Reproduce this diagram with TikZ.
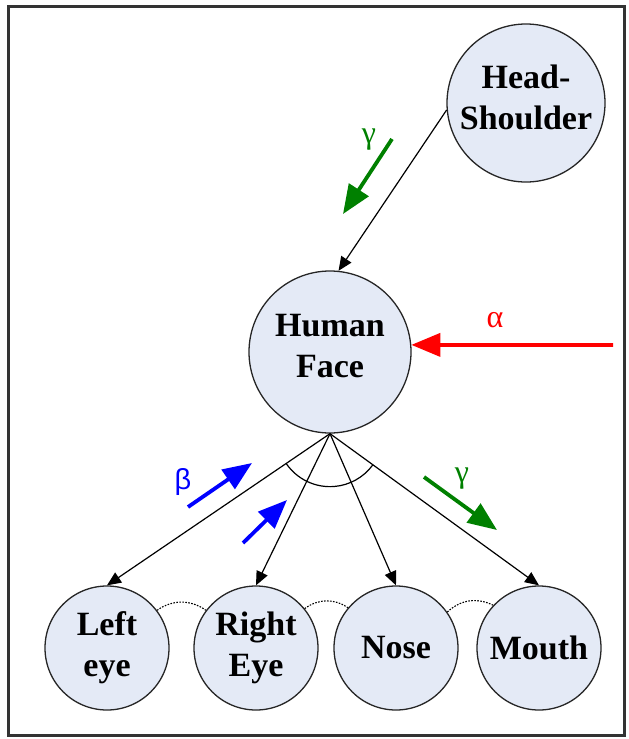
\documentclass[tikz,border=0pt]{standalone}
\usepackage{fontspec}
\setmainfont{Liberation Serif}
\newfontfamily\greeksans{Liberation Sans}
\newfontfamily\greekserif{Liberation Serif}
\usetikzlibrary{arrows.meta}

\definecolor{nodefill}{RGB}{228,234,246}
\definecolor{weightgreen}{RGB}{0,128,0}

\begin{document}
\begin{tikzpicture}[x=1pt,y=1pt,
  part/.style={circle,draw=black!85,line width=1.3pt,fill=nodefill,inner sep=0pt,
    align=center,font=\fontsize{34}{41}\selectfont\bfseries},
  raised/.style={text depth=12pt},
  link/.style={line width=1.2pt,-{Triangle[length=14pt,width=12pt]}},
  weight/.style={line width=3.8pt,-{Triangle[length=29pt,width=23pt]}},
  glabel/.style={font=\greekserif\fontsize{32}{32}\selectfont},
  slabel/.style={font=\greeksans\fontsize{29}{29}\selectfont},
  relation/.style={dash pattern=on 1.6pt off 1.4pt,line width=1.1pt}]

\useasboundingbox (0,0) rectangle (629,-739);
% frame
\draw[line width=3pt,black!80] (8.5,-6.5) rectangle (624.5,-735.5);

% nodes
\node[part,raised,minimum size=158pt] (hs) at (526,-103) {Head-\\Shoulder};
\node[part,raised,minimum size=162pt] (hf) at (330,-352) {Human\\Face};
\node[part,minimum size=124pt] (le) at (107,-648) {Left\\eye};
\node[part,minimum size=124pt] (re) at (256,-648) {Right\\Eye};
\node[part,minimum size=124pt] (no) at (396,-648) {Nose};
\node[part,minimum size=124pt] (mo) at (539,-648) {Mouth};

% structural links
\draw[link] (hs.185) -- (hf.84);
\draw[link] (hf.south) -- (le.north);
\draw[link] (hf.south) -- (re.north);
\draw[link] (hf.south) -- (no.north);
\draw[link] (hf.south) -- (mo.north);

% grouping arc over the child links
\draw[line width=1.2pt] (hf.south) ++(214.5:53) arc[start angle=214.5,end angle=323.7,radius=53];

% neighbour relations
\draw[relation] (le.37) to[bend left=35] (re.143);
\draw[relation] (re.39) to[bend left=35] (no.140);
\draw[relation] (no.35) to[bend left=35] (mo.137);

% weighted messages
\coordinate (g1s) at (392,-139);
\coordinate (g1e) at (343,-214);
\draw[weight,weightgreen] (g1s) -- (g1e);
\node[glabel,text=weightgreen] (g1) at (369,-140) {γ};

\coordinate (as) at (613,-345);
\draw[weight,red] (as) -- (hf.5);
\node[glabel,text=red] (al) at (495,-320) {α};

\coordinate (b1s) at (188,-507);
\coordinate (b1e) at (252,-463);
\draw[weight,blue] (b1s) -- (b1e);
\node[slabel,text=blue] (bl) at (183,-482) {β};

\coordinate (b2s) at (243,-543);
\coordinate (b2e) at (287,-500);
\draw[weight,blue] (b2s) -- (b2e);

\coordinate (g2s) at (424,-477);
\coordinate (g2e) at (497,-530);
\draw[weight,weightgreen] (g2s) -- (g2e);
\node[glabel,text=weightgreen] (g2) at (462,-479) {γ};
\end{tikzpicture}
\end{document}
